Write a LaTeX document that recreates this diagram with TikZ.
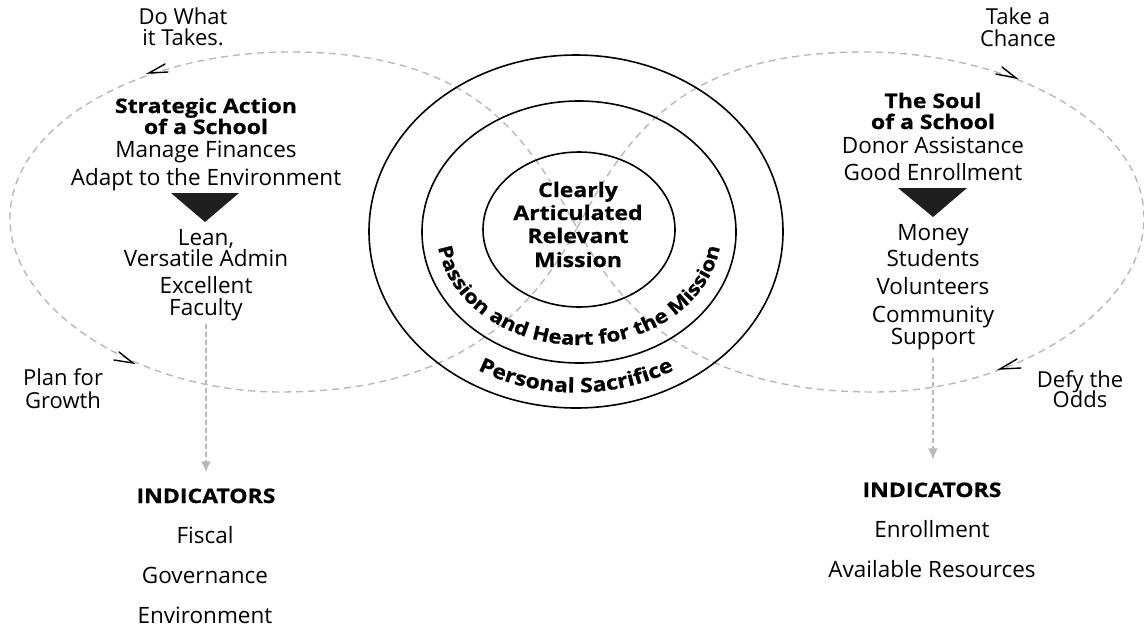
\documentclass[tikz,border=0pt]{standalone}
\usepackage{fontspec}
\setmainfont{Open Sans}[BoldFeatures={FakeStretch=1.15,FakeBold=0.8}]
\usetikzlibrary{arrows.meta,decorations.text}
\newcommand\ringfont{\fontsize{19.2}{24}\selectfont\bfseries}
\newcommand\outerringfont{\fontsize{20}{24}\selectfont\bfseries}
\tikzset{
  lbl/.style={anchor=base, inner sep=0pt, font=\fontsize{22.5}{26}\selectfont},
  smalllbl/.style={anchor=base, inner sep=0pt, font=\fontsize{22}{25}\selectfont},
  head/.style={anchor=base, inner sep=0pt, font=\fontsize{20}{24}\selectfont\bfseries},
  ring/.style={line width=1.6pt},
  eightloop/.style={draw=black!28, dash pattern=on 7pt off 5pt, line width=1.4pt},
  chev/.style={line width=1.4pt, line cap=round},
  garrow/.style={draw=black!28, dash pattern=on 5pt off 3pt, line width=1.8pt,
    -{Latex[length=11pt,width=10pt,fill=black!28]}},
  tri/.style={fill=black!88}
}
\begin{document}
\begin{tikzpicture}[x=1pt,y=-1pt]
\useasboundingbox (0,0) rectangle (1144,630);
% figure-eight dashed loop
\coordinate (C) at (577,228);
\draw[eightloop] (C) .. controls (629,131) and (684,52) .. (864,52)
  .. controls (1014,52) and (1144,125) .. (1144,218)
  .. controls (1144,310) and (1014,392) .. (874,392)
  .. controls (700,392) and (624,316) .. (C)
  .. controls (525,131) and (470,52) .. (290,52)
  .. controls (140,52) and (10,125) .. (10,218)
  .. controls (10,310) and (140,392) .. (280,392)
  .. controls (454,392) and (530,316) .. (C);
% chevrons on loop
\draw[chev] (165,64) -- (149,73) -- (168,72);
\draw[chev] (119,352) -- (133,363) -- (114,360);
\draw[chev] (1002,67) -- (1016,78) -- (996,74);
\draw[chev] (1017,359) -- (1000,369) -- (1021,368);
% rings
\draw[ring] (576,231.5) ellipse [x radius=207, y radius=176.5];
\draw[ring] (579,232) ellipse [x radius=157, y radius=131];
\draw[ring] (579,229.5) ellipse [x radius=96, y radius=77.5];
% ring texts
\path[decorate, decoration={text along path, text align=center,
  text={|\ringfont|Passion and Heart for the Mission}}]
  (437,232) arc[start angle=180, end angle=0, x radius=142, y radius=113];
\path[decorate, decoration={text along path, text align=center,
  text={|\outerringfont|Personal Sacrifice}}]
  (384,231.5) arc[start angle=180, end angle=0, x radius=192, y radius=161];
% center
\node[head] (c1) at (578,197) {Clearly};
\node[head] (c2) at (578,220) {Articulated};
\node[head] (c3) at (578,243) {Relevant};
\node[head] (c4) at (578,267) {Mission};
% left column
\node[smalllbl] (dw1) at (183,24) {Do What};
\node[smalllbl] (dw2) at (183,45) {it Takes.};
\node[head] (sa1) at (206,113) {Strategic Action};
\node[head] (sa2) at (206,134) {of a School};
\node[lbl] (mf) at (206,157) {Manage Finances};
\node[lbl] (ad) at (206,185) {Adapt to the Environment};
\fill[tri] (171,193) -- (239,193) -- (205,222) -- cycle;
\node[lbl] (lean) at (206,245) {Lean,};
\node[lbl] (vers) at (206,266) {Versatile Admin};
\node[lbl] (exc) at (206,293) {Excellent};
\node[lbl] (fac) at (206,315) {Faculty};
\node[smalllbl] (pl1) at (63,385) {Plan for};
\node[smalllbl] (pl2) at (63,408) {Growth};
\node[head] (indL) at (206,503) {INDICATORS};
\node[lbl] (fis) at (205,543) {Fiscal};
\node[lbl] (gov) at (205,583) {Governance};
\node[lbl] (env) at (205,623) {Environment};
% right column
\node[smalllbl] (tk1) at (1018,24) {Take a};
\node[smalllbl] (tk2) at (1018,46) {Chance};
\node[head] (so1) at (933,108) {The Soul};
\node[head] (so2) at (933,129) {of a School};
\node[lbl] (don) at (933,153) {Donor Assistance};
\node[lbl] (good) at (933,180) {Good Enrollment};
\fill[tri] (898,188) -- (967,188) -- (933,217) -- cycle;
\node[lbl] (mon) at (933,240) {Money};
\node[lbl] (stu) at (933,266) {Students};
\node[lbl] (vol) at (933,294) {Volunteers};
\node[lbl] (com) at (933,322) {Community};
\node[lbl] (sup) at (933,344) {Support};
\node[smalllbl] (df1) at (1080,387) {Defy the};
\node[smalllbl] (df2) at (1080,407) {Odds};
\node[head] (indR) at (932,497) {INDICATORS};
\node[lbl] (enr) at (932,537) {Enrollment};
\node[lbl] (avl) at (932,577) {Available Resources};
% gray arrows
\draw[garrow, shorten <=3pt, shorten >=16pt] (fac.south) -- (fac.south |- indL.north);
\draw[garrow, shorten <=8pt, shorten >=23pt] (sup.south) -- (sup.south |- indR.north);
\end{tikzpicture}
\end{document}
